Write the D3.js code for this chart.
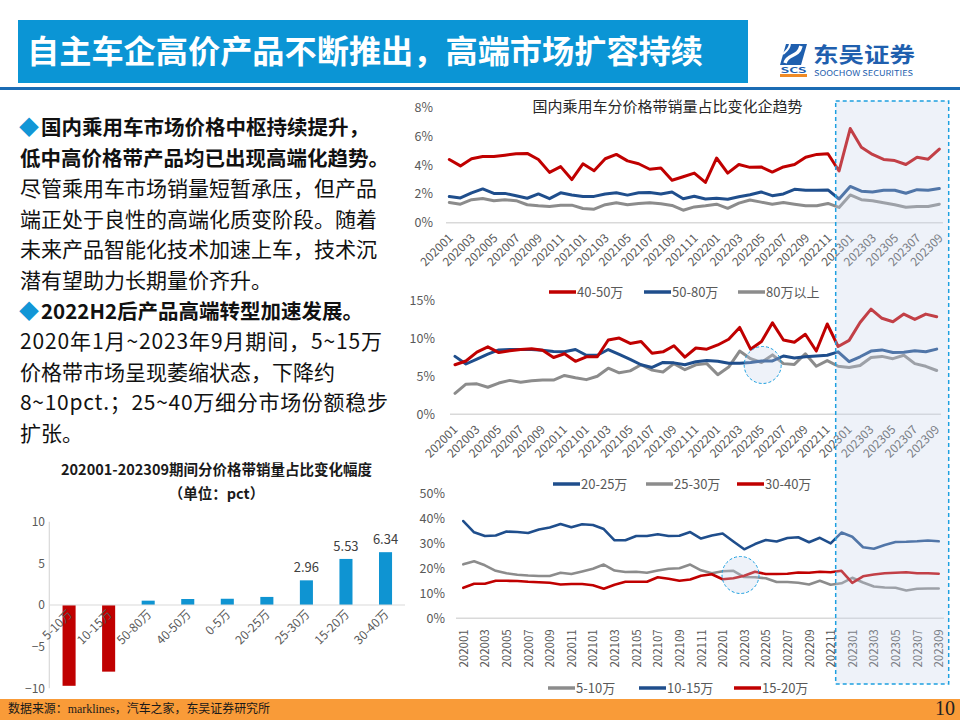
<!DOCTYPE html>
<html><head><meta charset="utf-8">
<script src="https://cdn.jsdelivr.net/npm/d3@7"></script>
<style>
body{margin:0;background:#fff;}
svg{display:block;}
text{font-family:"Noto Sans CJK SC","Noto Sans",sans-serif;}
</style>
</head><body>
<svg id="c" width="960" height="720"></svg>
<script>
// ---------------- DATA ----------------
const months = ["202001","202002","202003","202004","202005","202006","202007","202008","202009","202010","202011","202012",
"202101","202102","202103","202104","202105","202106","202107","202108","202109","202110","202111","202112",
"202201","202202","202203","202204","202205","202206","202207","202208","202209","202210","202211","202212",
"202301","202302","202303","202304","202305","202306","202307","202308","202309"];

// top chart (%): 40-50万, 50-80万, 80万以上
const top4050 = [4.4,3.95,4.45,4.6,4.6,4.7,4.8,4.82,4.4,3.5,3.9,3.0,4.1,3.62,4.45,4.75,4.3,4.1,3.72,3.8,2.95,3.2,3.45,2.8,4.5,3.45,4.05,3.85,3.88,3.52,3.88,4.05,4.55,4.75,4.8,3.6,6.55,5.25,4.75,4.4,4.32,4.05,4.55,4.42,5.12];
const top5080 = [1.82,1.72,2.07,2.35,2.04,2.04,1.87,1.7,2.0,1.67,2.08,1.93,1.83,1.83,2.0,2.08,1.92,2.08,2.1,2.0,2.13,1.67,1.84,1.65,1.7,1.63,1.81,1.95,2.14,1.88,2.0,2.32,2.26,2.26,2.28,1.65,2.52,2.19,2.14,2.26,2.26,2.05,2.3,2.26,2.38];
const top80up = [1.41,1.29,1.6,1.69,1.53,1.6,1.53,1.25,1.18,1.13,1.22,1.22,0.99,0.94,1.25,1.39,1.25,1.34,1.39,1.32,1.2,0.87,1.1,1.18,1.29,1.0,1.36,1.58,1.43,1.29,1.41,1.29,1.18,1.18,1.34,1.06,1.93,1.6,1.53,1.39,1.25,1.08,1.13,1.13,1.29];

// middle chart (%): 30-40万, 20-25万, 25-30万
const mid3040 = [6.5,7.0,8.15,8.85,8.1,8.35,8.5,8.6,8.4,7.45,7.95,6.95,7.55,7.55,9.75,10.0,9.3,9.55,8.0,8.2,9.0,7.5,8.7,8.55,9.1,9.85,11.4,8.55,9.55,12.0,9.75,9.45,10.5,8.3,11.85,8.9,9.7,12.05,13.8,12.6,12.15,13.15,12.45,13.15,12.8];
const mid2025 = [7.6,6.6,7.25,7.9,8.45,8.5,8.5,8.5,8.4,8.25,8.2,8.5,7.75,7.75,8.5,7.85,7.2,6.5,6.15,6.8,6.75,6.5,6.9,7.05,6.95,6.7,6.7,6.8,7.0,7.0,7.65,7.4,7.55,7.65,7.75,8.2,6.9,7.55,8.3,8.45,8.1,8.15,8.35,8.2,8.55];
const mid2530 = [2.75,3.95,4.0,3.55,4.1,4.45,4.2,4.4,4.5,4.5,5.1,4.8,4.55,5.0,6.05,5.45,5.7,6.5,5.8,5.55,6.65,5.85,6.5,6.65,5.2,6.2,8.3,7.3,6.8,7.8,6.65,6.55,7.95,6.3,7.05,6.3,6.15,6.4,7.45,7.6,7.3,7.75,6.65,6.3,5.75];

// bottom chart (%): 10-15万, 5-10万, 15-20万
const bot1015 = [38.9,34.4,32.9,33.1,34.7,34.5,34.1,35.5,36.3,37.7,36.4,37.6,37.3,35.7,31.2,31.2,32.9,32.9,33.6,32.9,33.0,34.5,31.9,33.1,33.9,30.7,27.6,29.7,31.3,30.7,32.1,32.4,30.4,32.2,30.0,34.3,32.6,28.4,27.8,29.3,30.5,30.6,30.8,31.1,30.8];
const bot510 = [21.6,22.8,21.2,19.0,18.0,17.4,17.1,16.9,16.9,18.2,17.7,18.7,19.8,21.5,19.1,18.5,18.6,18.2,19.1,19.8,20.0,21.5,19.2,18.0,18.8,19.0,16.5,16.4,16.0,14.5,14.5,14.2,13.5,15.0,13.4,14.0,16.2,14.3,12.7,12.3,12.2,11.1,11.8,11.9,11.9];
const bot1520 = [12.2,13.8,13.8,15.0,15.0,14.9,14.6,14.4,14.2,13.5,13.7,13.7,13.2,11.8,13.4,14.6,14.6,14.6,16.4,15.8,15.0,15.5,17.0,17.6,15.6,16.0,17.0,18.6,17.7,17.7,17.8,18.3,18.2,18.6,18.4,19.0,14.2,16.8,17.5,18.0,18.2,18.4,18.0,18.0,17.8];

// bar chart (pct)
const barCats = ["5-10万","10-15万","50-80万","40-50万","0-5万","20-25万","25-30万","15-20万","30-40万"];
const barVals = [-9.7,-8.0,0.52,0.72,0.75,0.97,2.96,5.53,6.34];
const barLabelled = ["25-30万","15-20万","30-40万"];
const barTicks = [10,5,0,-5,-10];

const topTicks = [0,2,4,6,8];
const midTicks = [0,5,10,15];
const botTicks = [0,10,20,30,40,50];

// ---------------- STYLE ----------------
const RED = "#c00000", NAVY = "#1f4e8c", GRAY = "#8c8c8c", BARBLUE = "#0f94d2";
const LABEL = "#595959";

const svg = d3.select("#c");
svg.append("rect").attr("width",960).attr("height",720).attr("fill","#fff");

// ---------------- HEADER ----------------
svg.append("rect").attr("x",18).attr("y",20).attr("width",730).attr("height",63).attr("fill","#0b95d5");
svg.append("text").attr("x",27).attr("y",63).attr("font-size",32).attr("font-weight","bold")
  .attr("fill","#fff").attr("textLength",676).attr("lengthAdjust","spacingAndGlyphs")
  .text("自主车企高价产品不断推出，高端市场扩容持续");
svg.append("rect").attr("x",0).attr("y",87).attr("width",960).attr("height",3).attr("fill","#1b6cb4");

// logo
const logo = svg.append("g").attr("transform","translate(780,44)");
logo.append("path").attr("d","M6,0 H27 L21,21 H0 Z").attr("fill","#1f5fae");
logo.append("path").attr("d","M5,19 C8,9 18,14 21,2").attr("fill","none").attr("stroke","#fff").attr("stroke-width",3.5);
logo.append("path").attr("d","M10,0 C9,6 5,8 3,10").attr("fill","none").attr("stroke","#fff").attr("stroke-width",2);
logo.append("text").attr("x",13.5).attr("y",29).attr("text-anchor","middle").attr("font-size",7.5).attr("font-weight","bold")
  .attr("fill","#1f5fae").attr("textLength",26).attr("lengthAdjust","spacingAndGlyphs").text("SCS");
logo.append("rect").attr("x",0).attr("y",30).attr("width",27).attr("height",3).attr("fill","#f08a24");
svg.append("text").attr("x",813).attr("y",62).attr("font-size",21).attr("font-weight","bold").attr("fill","#1f5fae")
  .attr("textLength",102).attr("lengthAdjust","spacingAndGlyphs").text("东吴证券");
svg.append("text").attr("x",814).attr("y",75.5).attr("font-size",8).attr("fill","#1f5fae")
  .attr("textLength",99).attr("lengthAdjust","spacingAndGlyphs").text("SOOCHOW SECURITIES");

// ---------------- LEFT TEXT ----------------
const lines = [
  {t:"国内乘用车市场价格中枢持续提升，", b:true, d:true},
  {t:"低中高价格带产品均已出现高端化趋势。", b:true},
  {t:"尽管乘用车市场销量短暂承压，但产品"},
  {t:"端正处于良性的高端化质变阶段。随着"},
  {t:"未来产品智能化技术加速上车，技术沉"},
  {t:"潜有望助力长期量价齐升。"},
  {t:"2022H2后产品高端转型加速发展。", b:true, d:true, w:322},
  {t:"2020年1月~2023年9月期间，5~15万", w:362},
  {t:"价格带市场呈现萎缩状态，下降约"},
  {t:"8~10pct.；25~40万细分市场份额稳步", w:368},
  {t:"扩张。"}
];
lines.forEach((l,i)=>{
  const y = 135 + i*30.6;
  if(l.d){
    svg.append("text").attr("x",19).attr("y",y).attr("font-size",20).attr("fill","#1296d6").text("◆");
  }
  const t = svg.append("text").attr("x", l.d?41:20).attr("y",y)
    .attr("font-size", l.b?20.5:21).attr("font-weight", l.b?"bold":"normal").attr("fill","#111").text(l.t);
  if(l.w) t.attr("textLength",l.w).attr("lengthAdjust","spacing");
});

// ---------------- BAR CHART ----------------
svg.append("text").attr("x",216.5).attr("y",475).attr("text-anchor","middle").attr("font-size",14.5).attr("font-weight","bold")
  .attr("fill","#1a1a1a").text("202001-202309期间分价格带销量占比变化幅度");
svg.append("text").attr("x",216.5).attr("y",499).attr("text-anchor","middle").attr("font-size",14.5).attr("font-weight","bold")
  .attr("fill","#1a1a1a").text("（单位：pct）");

const bx = d3.scaleBand().domain(barCats).range([49.3,405.3]).paddingInner(0.67).paddingOuter(0.335);
const by = d3.scaleLinear().domain([-10,10]).range([688.3,521.7]);
const barG = svg.append("g");
barG.append("line").attr("x1",49.3).attr("x2",49.3).attr("y1",by(10)).attr("y2",by(-10)).attr("stroke","#d9d9d9").attr("stroke-width",1.2);
const byAxis = barG.append("g").attr("transform","translate(45,0)")
  .call(d3.axisLeft(by).tickValues(barTicks).tickSize(0).tickPadding(0).tickFormat(d3.format("d")));
byAxis.select(".domain").remove();
byAxis.selectAll("text").attr("font-size",12).attr("fill",LABEL).attr("font-family","Noto Sans CJK SC");
barG.selectAll("rect.bar").data(barCats).join("rect").attr("class","bar")
  .attr("x",d=>bx(d)).attr("width",bx.bandwidth())
  .attr("y",(d,i)=>by(Math.max(0,barVals[i]))).attr("height",(d,i)=>Math.abs(by(barVals[i])-by(0)))
  .attr("fill",(d,i)=>barVals[i]<0?RED:BARBLUE);
barG.append("line").attr("x1",49.3).attr("x2",405).attr("y1",by(0)).attr("y2",by(0)).attr("stroke","#d9d9d9").attr("stroke-width",1.2);
barG.selectAll("text.cat").data(barCats).join("text").attr("class","cat")
  .attr("text-anchor","end").attr("font-size",12).attr("fill",LABEL)
  .attr("transform",d=>`translate(${bx(d)+bx.bandwidth()/2+4},${by(0)+10}) rotate(-45)`).text(d=>d);
barG.selectAll("text.val").data(barCats.filter(c=>barLabelled.includes(c))).join("text").attr("class","val")
  .attr("text-anchor","middle").attr("font-size",13).attr("fill","#404040")
  .attr("x",d=>bx(d)+bx.bandwidth()/2).attr("y",d=>by(barVals[barCats.indexOf(d)])-8)
  .text(d=>barVals[barCats.indexOf(d)].toFixed(2));

// ---------------- LINE CHARTS ----------------
const tickMonths = months.filter((m,i)=>i%2===0);
function lineChart(o){
  const g = svg.append("g");
  g.append("line").attr("x1",o.bx0).attr("x2",o.bx1).attr("y1",o.y(0)).attr("y2",o.y(0)).attr("stroke","#d9d9d9").attr("stroke-width",1.5);
  const ya = g.append("g").attr("transform",`translate(${o.yLabX},0)`)
    .call(d3.axisLeft(o.y).tickValues(o.ticks).tickSize(0).tickPadding(0).tickFormat(d=>d+"%"));
  ya.select(".domain").remove();
  ya.selectAll("text").attr("font-size",12.5).attr("fill",LABEL).attr("font-family","Noto Sans CJK SC");
  const xa = g.append("g").attr("transform",`translate(0,${o.y(0)})`)
    .call(d3.axisBottom(o.x).tickValues(tickMonths).tickSize(0));
  xa.select(".domain").remove();
  xa.selectAll("text").attr("font-size",o.xFont).attr("fill",LABEL).attr("font-family","Noto Sans CJK SC")
    .attr("x",0).attr("y",0).attr("dy",0).attr("text-anchor","end")
    .attr("transform",o.xLabT);
  const line = d3.line().x((d,i)=>o.x(months[i])).y(d=>o.y(d)).curve(d3.curveLinear);
  o.series.forEach(s=>{
    g.append("path").datum(s.v).attr("d",line).attr("fill","none").attr("stroke",s.c)
      .attr("stroke-width",o.lw).attr("stroke-linejoin","round").attr("stroke-linecap","round");
  });
}

lineChart({
  x: d3.scalePoint().domain(months).range([449.3,939.3]),
  y: d3.scaleLinear().domain([0,8]).range([222.7,107.7]),
  ticks: topTicks, yLabX: 433, bx0: 446, bx1: 943, xFont: 12, lw: 3,
  xLabT: "translate(4,16) rotate(-45)",
  series: [{v:top80up,c:GRAY},{v:top5080,c:NAVY},{v:top4050,c:RED}]
});
lineChart({
  x: d3.scalePoint().domain(months).range([455,936.7]),
  y: d3.scaleLinear().domain([0,15]).range([414.3,300]),
  ticks: midTicks, yLabX: 435, bx0: 450, bx1: 941, xFont: 12, lw: 3,
  xLabT: "translate(3,16) rotate(-45)",
  series: [{v:mid2530,c:GRAY},{v:mid2025,c:NAVY},{v:mid3040,c:RED}]
});
lineChart({
  x: d3.scalePoint().domain(months).range([463.3,938.7]),
  y: d3.scaleLinear().domain([0,50]).range([618.3,493.3]),
  ticks: botTicks, yLabX: 445, bx0: 456, bx1: 944, xFont: 11.5, lw: 2.6,
  xLabT: "translate(4,11) rotate(-90)",
  series: [{v:bot510,c:GRAY},{v:bot1015,c:NAVY},{v:bot1520,c:RED}]
});

svg.append("text").attr("x",667.5).attr("y",111.5).attr("text-anchor","middle").attr("font-size",15).attr("fill","#262626")
  .text("国内乘用车分价格带销量占比变化企趋势");

function legend(y, items){
  items.forEach(it=>{
    svg.append("line").attr("x1",it.x).attr("x2",it.x+27).attr("y1",y).attr("y2",y).attr("stroke",it.c).attr("stroke-width",3.5);
    svg.append("text").attr("x",it.x+28).attr("y",y+4.6).attr("font-size",13).attr("fill",LABEL).text(it.t);
  });
}
legend(292, [{x:549,c:RED,t:"40-50万"},{x:644,c:NAVY,t:"50-80万"},{x:738,c:GRAY,t:"80万以上"}]);
legend(484, [{x:553,c:NAVY,t:"20-25万"},{x:646,c:GRAY,t:"25-30万"},{x:737,c:RED,t:"30-40万"}]);
legend(688, [{x:548,c:GRAY,t:"5-10万"},{x:639,c:NAVY,t:"10-15万"},{x:734,c:RED,t:"15-20万"}]);

svg.append("rect").attr("x",835.7).attr("y",101).attr("width",113).attr("height",583)
  .attr("fill","rgb(200,213,235)").attr("fill-opacity",0.3)
  .attr("stroke","#1ea0e0").attr("stroke-width",1.5).attr("stroke-dasharray","4,3");
[[762.7,365],[740.5,575]].forEach(c=>{
  svg.append("circle").attr("cx",c[0]).attr("cy",c[1]).attr("r",18.5)
    .attr("fill","rgb(200,213,235)").attr("fill-opacity",0.3)
    .attr("stroke","#1ea0e0").attr("stroke-width",1).attr("stroke-dasharray","3,2");
});

// ---------------- FOOTER ----------------
svg.append("rect").attr("x",0).attr("y",699).attr("width",960).attr("height",21).attr("fill","#f99b38");
svg.append("text").attr("x",8).attr("y",713).attr("font-size",12.5).attr("fill","#1a1a1a")
  .attr("textLength",262).attr("lengthAdjust","spacingAndGlyphs")
  .style("font-family","'Liberation Serif','Noto Sans CJK SC',serif")
  .text("数据来源：marklines，汽车之家，东吴证券研究所");
svg.append("text").attr("x",955).attr("y",715).attr("text-anchor","end").attr("font-size",20).attr("fill","#222")
  .style("font-family","'Liberation Serif',serif").text("10");
</script>
</body></html>
